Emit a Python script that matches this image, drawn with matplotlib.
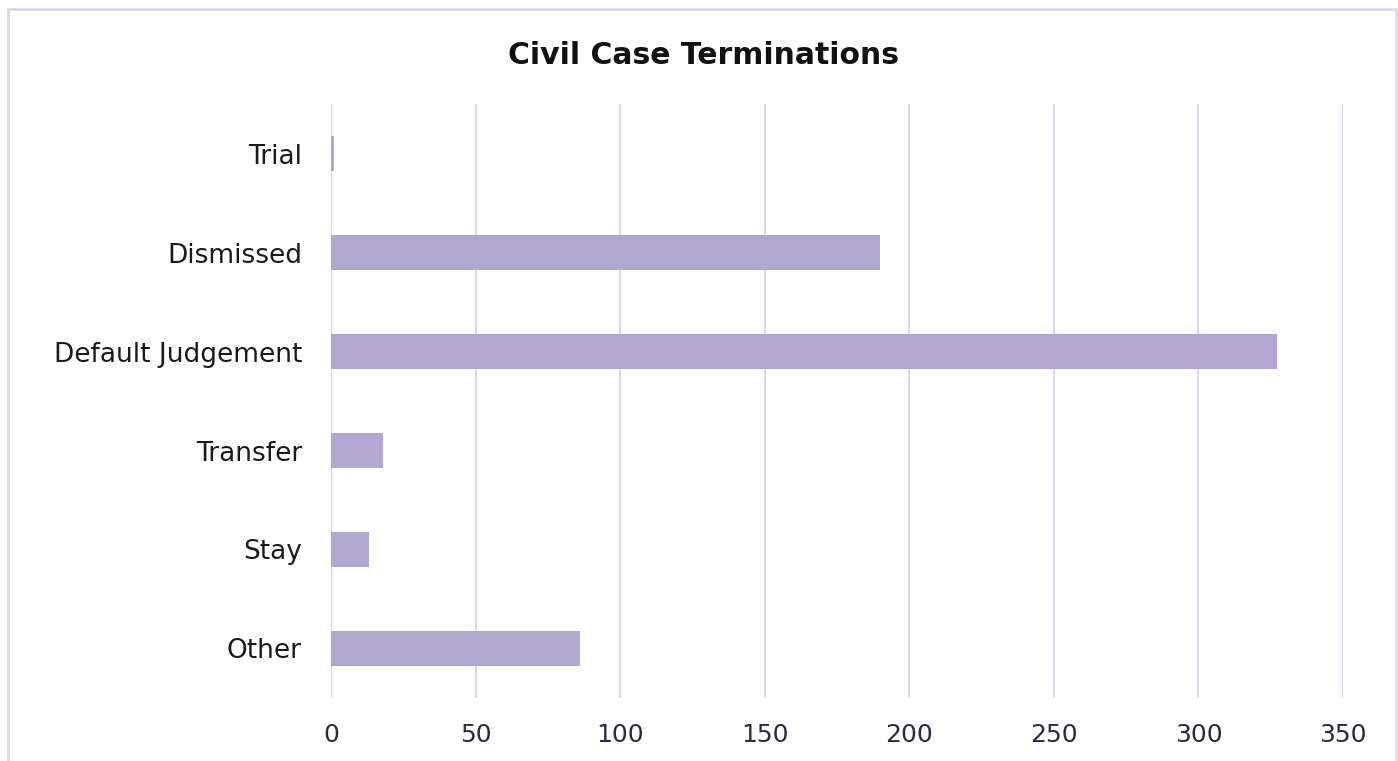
import matplotlib.pyplot as plt
from matplotlib.patches import Rectangle

categories = ["Trial", "Dismissed", "Default Judgement", "Transfer", "Stay", "Other"]
counts = [1, 190, 327, 18, 13, 86]
x_ticks = [0, 50, 100, 150, 200, 250, 300, 350]

BAR = "#b0a8d0"
GRID = "#dcd8ec"
TEXT = "#2a2a44"

plt.rcParams["font.family"] = ["DejaVu Sans"]

fig = plt.figure(figsize=(13.98, 7.61), dpi=100)
ax = fig.add_axes([0.2368, 0.0828, 0.7239, 0.7805])

y = list(range(len(categories)))[::-1]
ax.barh(y, counts, height=0.355, color=BAR, zorder=2)

ax.set_xlim(0, 350)
ax.set_ylim(-0.5, len(categories) - 0.5)
ax.set_xticks(x_ticks)
ax.set_xticklabels([str(t) for t in x_ticks], fontsize=18, color=TEXT)
ax.set_yticks(y)
ax.set_yticklabels(categories, fontsize=19, color="#1a1a1a")
ax.tick_params(length=0, pad=21, axis="y")
ax.tick_params(length=0, pad=18, axis="x")
ax.grid(axis="x", color=GRID, lw=1.5, zorder=0)
for s in ax.spines.values():
    s.set_visible(False)

fig.text(0.503, 1 - 55 / 761, "Civil Case Terminations", fontsize=21.5,
         fontweight="bold", color="#111111", ha="center", va="center")

# outer chart border (bottom edge lies outside the image)
fig.patches.append(Rectangle((8 / 1398, -0.05), (1396 - 8) / 1398, 1.05 - 9 / 761,
                             transform=fig.transFigure, fill=False,
                             edgecolor=GRID, lw=2))

fig.savefig("out.png", dpi=100)
